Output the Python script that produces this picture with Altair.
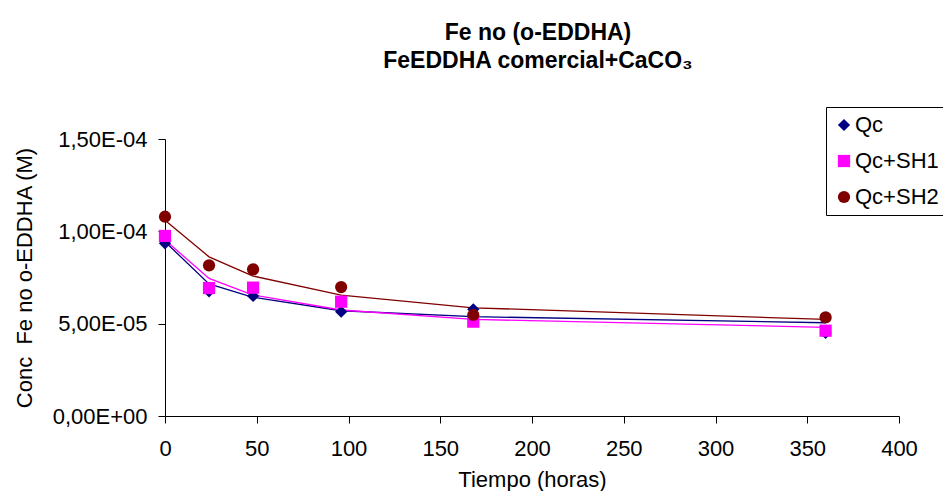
import altair as alt
import pandas as pd

# Data (concentrations in M)
times = [0, 24, 48, 96, 168, 360]
series = ["Qc", "Qc+SH1", "Qc+SH2"]

qc = [9.35e-05, 6.75e-05, 6.50e-05, 5.65e-05, 5.78e-05, 4.50e-05]
qc_sh1 = [9.75e-05, 6.93e-05, 6.95e-05, 6.19e-05, 5.11e-05, 4.62e-05]
qc_sh2 = [1.079e-04, 8.16e-05, 7.94e-05, 6.98e-05, 5.47e-05, 5.34e-05]

# Fitted (trend) curves evaluated at the same times
fit_qc = [9.44e-05, 7.15e-05, 6.43e-05, 5.70e-05, 5.38e-05, 5.05e-05]
fit_sh1 = [9.53e-05, 7.45e-05, 6.55e-05, 5.74e-05, 5.23e-05, 4.80e-05]
fit_sh2 = [1.060e-04, 8.62e-05, 7.58e-05, 6.55e-05, 5.86e-05, 5.23e-05]

x_ticks = [0, 50, 100, 150, 200, 250, 300, 350, 400]
y_ticks = [0, 5e-05, 1e-04, 1.5e-04]
y_tick_labels = ["0,00E+00", "5,00E-05", "1,00E-04", "1,50E-04"]

colors = ["#000080", "#FF00FF", "#800000"]
shapes = ["diamond", "square", "circle"]

pts = pd.DataFrame(
    [{"t": t, "v": v, "s": s, "o": i}
     for i, (s, vals) in enumerate(zip(series, [qc, qc_sh1, qc_sh2]))
     for t, v in zip(times, vals)]
)

# label expression from tick lists
expr = ""
for i in range(len(y_ticks) - 1):
    mid = (y_ticks[i] + y_ticks[i + 1]) / 2
    expr += f"datum.value < {mid} ? '{y_tick_labels[i]}' : "
expr += f"'{y_tick_labels[-1]}'"

FONT = "Liberation Sans"

x_enc = alt.X(
    "t:Q",
    scale=alt.Scale(domain=[0, 400], nice=False),
    axis=alt.Axis(
        values=x_ticks, title="Tiempo (horas)", grid=False,
        labelFontSize=22, titleFontSize=22, titleFontWeight="normal",
        labelFont=FONT, titleFont=FONT, labelColor="black", titleColor="black",
        domainColor="black", tickColor="black", tickSize=7,
        labelBaseline="alphabetic", labelPadding=32,
        titleBaseline="alphabetic", titleY=70, titleX=367, titleAnchor="middle",
        labelFlush=False,
    ),
)
y_enc = alt.Y(
    "v:Q",
    scale=alt.Scale(domain=[0, 1.5e-04], nice=False),
    axis=alt.Axis(
        values=y_ticks, labelExpr=expr, title="Conc\u00a0 Fe no o-EDDHA (M)",
        grid=False, labelFontSize=22, titleFontSize=22, titleFontWeight="normal",
        labelFont=FONT, titleFont=FONT, labelColor="black", titleColor="black",
        domainColor="black", tickColor="black", tickSize=7, labelPadding=11,
        titleAngle=-90, titleBaseline="alphabetic", titleX=-134, titleY=138.5,
        titleAlign="center", labelFlush=False,
    ),
)

line_layers = []
for s, vals, c in zip(series, [fit_qc, fit_sh1, fit_sh2], colors):
    df = pd.DataFrame({"t": times, "v": vals})
    line_layers.append(
        alt.Chart(df).mark_line(strokeWidth=1.3, color=c).encode(x=x_enc, y=y_enc)
    )

points = alt.Chart(pts).mark_point(filled=True, size=150, opacity=1).encode(
    x=x_enc,
    y=y_enc,
    color=alt.Color("s:N", scale=alt.Scale(domain=series, range=colors), title=None),
    shape=alt.Shape("s:N", scale=alt.Scale(domain=series, range=shapes), title=None),
    order=alt.Order("o:Q"),
)

chart = alt.layer(*line_layers, points).properties(
    width=734,
    height=277,
    autosize=alt.AutoSizeParams(type="none"),
    padding={"left": 157, "top": 131, "right": 44, "bottom": 75},
    title=alt.TitleParams(
        text=["Fe no (o-EDDHA)", "FeEDDHA comercial+CaCO₃"],
        fontSize=23, fontWeight="bold", font=FONT, color="black",
        anchor="middle", frame="group", dx=6, lineHeight=28, offset=34,
    ),
).configure_view(stroke=None).configure_legend(
    orient="none", legendX=661, legendY=-32,
    labelFontSize=22, labelFont=FONT, labelColor="black",
    strokeColor="black", fillColor="white", padding=7,
    rowPadding=14, labelOffset=0, symbolSize=150,
    symbolStrokeWidth=0,
)

chart.save("out.html", embed_options={"renderer": "svg", "actions": False})
